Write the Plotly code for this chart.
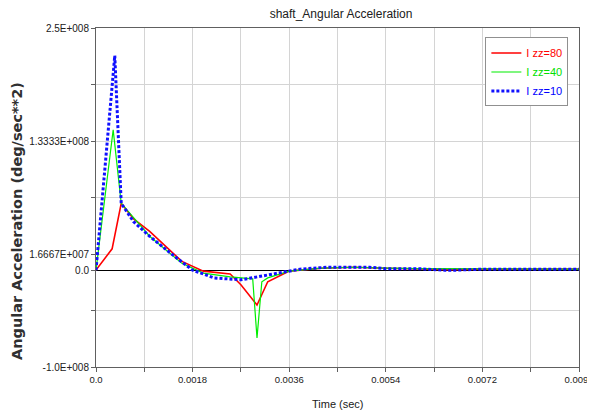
import plotly.graph_objects as go

# ---- data (time in sec, angular acceleration in deg/sec**2) ----
t_izz80 = [0, 0.0003, 0.00047, 0.0007, 0.001, 0.0016, 0.002, 0.0025, 0.0027, 0.003,
           0.0032, 0.0036, 0.0042, 0.0048, 0.0054, 0.006, 0.0066, 0.0072, 0.009]
a_izz80 = [0, 0.22e8, 0.69e8, 0.53e8, 0.40e8, 0.09e8, -0.01e8, -0.04e8, -0.15e8, -0.36e8,
           -0.12e8, -0.01e8, 0.02e8, 0.03e8, 0.02e8, 0.01e8, 0.005e8, 0.01e8, 0.01e8]

t_izz40 = [0, 0.00032, 0.00047, 0.001, 0.0016, 0.002, 0.0025, 0.00292, 0.003, 0.00309,
           0.0032, 0.0036, 0.0042, 0.0048, 0.0054, 0.006, 0.009]
a_izz40 = [0, 1.45e8, 0.69e8, 0.35e8, 0.07e8, -0.03e8, -0.07e8, -0.09e8, -0.70e8, -0.12e8,
           -0.08e8, -0.01e8, 0.02e8, 0.03e8, 0.02e8, 0.015e8, 0.01e8]

t_izz10 = [0, 0.00035, 0.00047, 0.0007, 0.001, 0.0014, 0.0018, 0.0022, 0.0027, 0.0031,
           0.0034, 0.0038, 0.0043, 0.0051, 0.0054, 0.006, 0.0065, 0.0067, 0.0072, 0.009]
a_izz10 = [0, 2.215e8, 0.69e8, 0.50e8, 0.35e8, 0.17e8, 0.0, -0.08e8, -0.10e8, -0.06e8,
           -0.03e8, 0.01e8, 0.03e8, 0.03e8, 0.015e8, 0.015e8, 0.0, 0.0, 0.01e8, 0.01e8]

x_tickvals = [0, 0.0009, 0.0018, 0.0027, 0.0036, 0.0045, 0.0054, 0.0063, 0.0072, 0.0081, 0.009]
x_ticktext = ["0.0", "", "0.0018", "", "0.0036", "", "0.0054", "", "0.0072", "", "0.009"]
y_tickvals = [-1.0e8, -4.1667e7, 0, 1.6667e7, 7.5e7, 1.3333e8, 1.9167e8, 2.5e8]
y_ticktext = ["-1.0E+008", "", "0.0", "1.6667E+007", "", "1.3333E+008", "", "2.5E+008"]

FONT = "Liberation Sans, Arial, sans-serif"
TXT = "#202020"

# last x label padded slightly so it stays inside the window edge
x_ticktext_shown = x_ticktext[:-1] + [x_ticktext[-1] + "\u00a0\u00a0"]

fig = go.Figure()
fig.add_trace(go.Scatter(x=t_izz80, y=a_izz80, mode="lines",
                         name="<span style='color:#ff0000'>I zz=80</span>",
                         line=dict(color="#ff0000", width=1.6)))
fig.add_trace(go.Scatter(x=t_izz40, y=a_izz40, mode="lines",
                         name="<span style='color:#00e000'>I zz=40</span>",
                         line=dict(color="#00ee00", width=1.2)))
fig.add_trace(go.Scatter(x=t_izz10, y=a_izz10, mode="lines",
                         name="<span style='color:#0000ff'>I zz=10</span>",
                         line=dict(color="#1010ff", width=3, dash="3px,2px")))

# page body has an 8px default margin: figure is sized/offset to land the plot area at
# x 96..579, y 28..367 of the 595x414 window
fig.update_layout(
    width=587, height=406,
    margin=dict(l=88, r=16, t=20, b=47, autoexpand=False),
    paper_bgcolor="white", plot_bgcolor="white",
    title=dict(text="shaft_Angular Acceleration", x=0.5674, xanchor="center",
               y=0.995, yanchor="top",
               font=dict(family=FONT, size=12, color=TXT)),
    font=dict(family=FONT, size=10, color=TXT),
    showlegend=True,
    legend=dict(x=0.978, xanchor="right", y=0.972, yanchor="top",
                bgcolor="white", bordercolor="#909090", borderwidth=1,
                font=dict(family=FONT, size=11), tracegroupgap=0,
                itemwidth=30),
    xaxis=dict(range=[0, 0.009], tickmode="array", tickvals=x_tickvals, ticktext=x_ticktext_shown,
               automargin=False, ticklabeloverflow="allow",
               showgrid=True, gridcolor="#d4d4d4", gridwidth=1,
               showline=True, linecolor="#606060", linewidth=1, mirror=True,
               ticks="outside", ticklen=4, tickcolor="#606060",
               zeroline=False,
               tickfont=dict(family=FONT, size=9.5, color=TXT)),
    yaxis=dict(range=[-1.0e8, 2.5e8], tickmode="array", tickvals=y_tickvals, ticktext=y_ticktext,
               automargin=False, ticklabeloverflow="allow",
               showgrid=True, gridcolor="#d4d4d4", gridwidth=1,
               showline=True, linecolor="#606060", linewidth=1, mirror=True,
               ticks="outside", ticklen=4, tickcolor="#606060",
               zeroline=True, zerolinecolor="#000000", zerolinewidth=1,
               tickfont=dict(family=FONT, size=10, color=TXT)),
    annotations=[
        dict(text="Time (sec)", xref="paper", yref="paper", x=0.5, y=-0.109,
             xanchor="center", yanchor="middle", showarrow=False,
             font=dict(family=FONT, size=11, color=TXT)),
        dict(text="<b>Angular Acceleration (deg/sec**2)</b>", xref="paper", yref="paper",
             x=-0.164, y=0.43, xanchor="center", yanchor="middle", textangle=-90,
             showarrow=False,
             font=dict(family="DejaVu Sans, Arial, sans-serif", size=14.5, color="#303030")),
    ],
)

fig.write_html("out.html")
